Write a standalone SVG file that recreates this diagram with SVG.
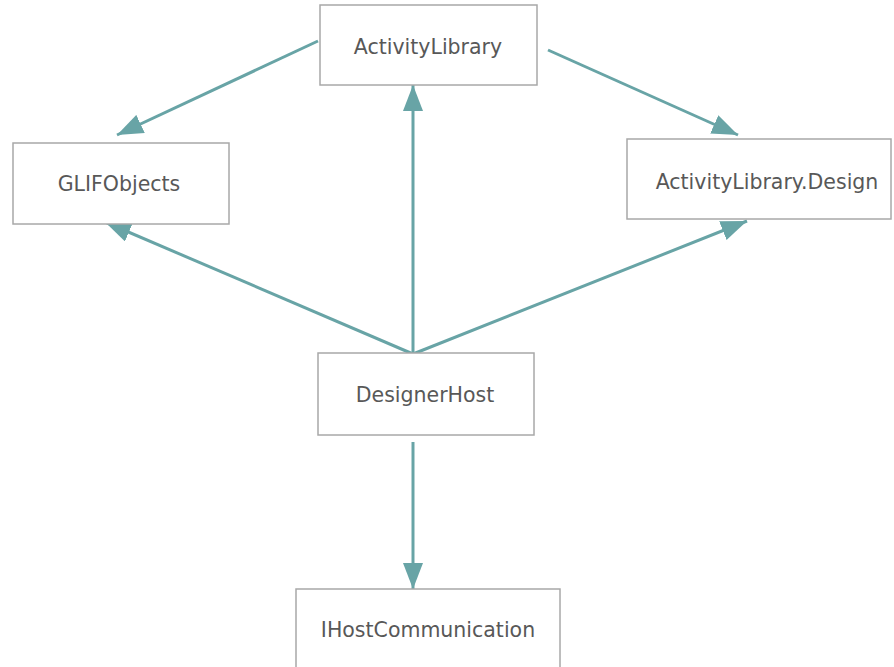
<svg xmlns="http://www.w3.org/2000/svg" width="894" height="667" viewBox="0 0 894 667">
  <defs>
    <marker id="head" viewBox="0 0 26 20" refX="26" refY="10" markerWidth="26" markerHeight="20" orient="auto" markerUnits="userSpaceOnUse">
      <path d="M0,0 L26,10 L0,20 Z" fill="#68a4a6"/>
    </marker>
    <style>
      .box { fill: #ffffff; stroke: #a8a8a8; stroke-width: 1.5; }
      .label { font-family: "DejaVu Sans", Verdana, sans-serif; font-size: 20.5px; fill: #585858; text-anchor: middle; }
      .edge { stroke: #68a4a6; stroke-width: 3; fill: none; marker-end: url(#head); }
    </style>
  </defs>
  <rect width="894" height="667" fill="#ffffff"/>

  <g id="connectors">
    <line class="edge" x1="318" y1="41" x2="117" y2="135"/>
    <line class="edge" x1="548" y1="50" x2="738" y2="135"/>
    <line class="edge" x1="413" y1="354" x2="413" y2="85"/>
    <line class="edge" x1="413" y1="354" x2="105" y2="222"/>
    <line class="edge" x1="413" y1="354" x2="747" y2="221"/>
    <line class="edge" x1="413" y1="442" x2="413" y2="589"/>
  </g>

  <g id="ActivityLibrary">
    <rect class="box" x="320" y="5" width="217" height="80"/>
    <text class="label" x="428" y="54">ActivityLibrary</text>
  </g>
  <g id="GLIFObjects">
    <rect class="box" x="13" y="143" width="216" height="81"/>
    <text class="label" x="119" y="191">GLIFObjects</text>
  </g>
  <g id="ActivityLibraryDesign">
    <rect class="box" x="627" y="139" width="264" height="80"/>
    <text class="label" x="767" y="189">ActivityLibrary.Design</text>
  </g>
  <g id="DesignerHost">
    <rect class="box" x="318" y="353" width="216" height="82"/>
    <text class="label" x="425" y="402">DesignerHost</text>
  </g>
  <g id="IHostCommunication">
    <rect class="box" x="296" y="589" width="264" height="90"/>
    <text class="label" x="428" y="637">IHostCommunication</text>
  </g>
</svg>
